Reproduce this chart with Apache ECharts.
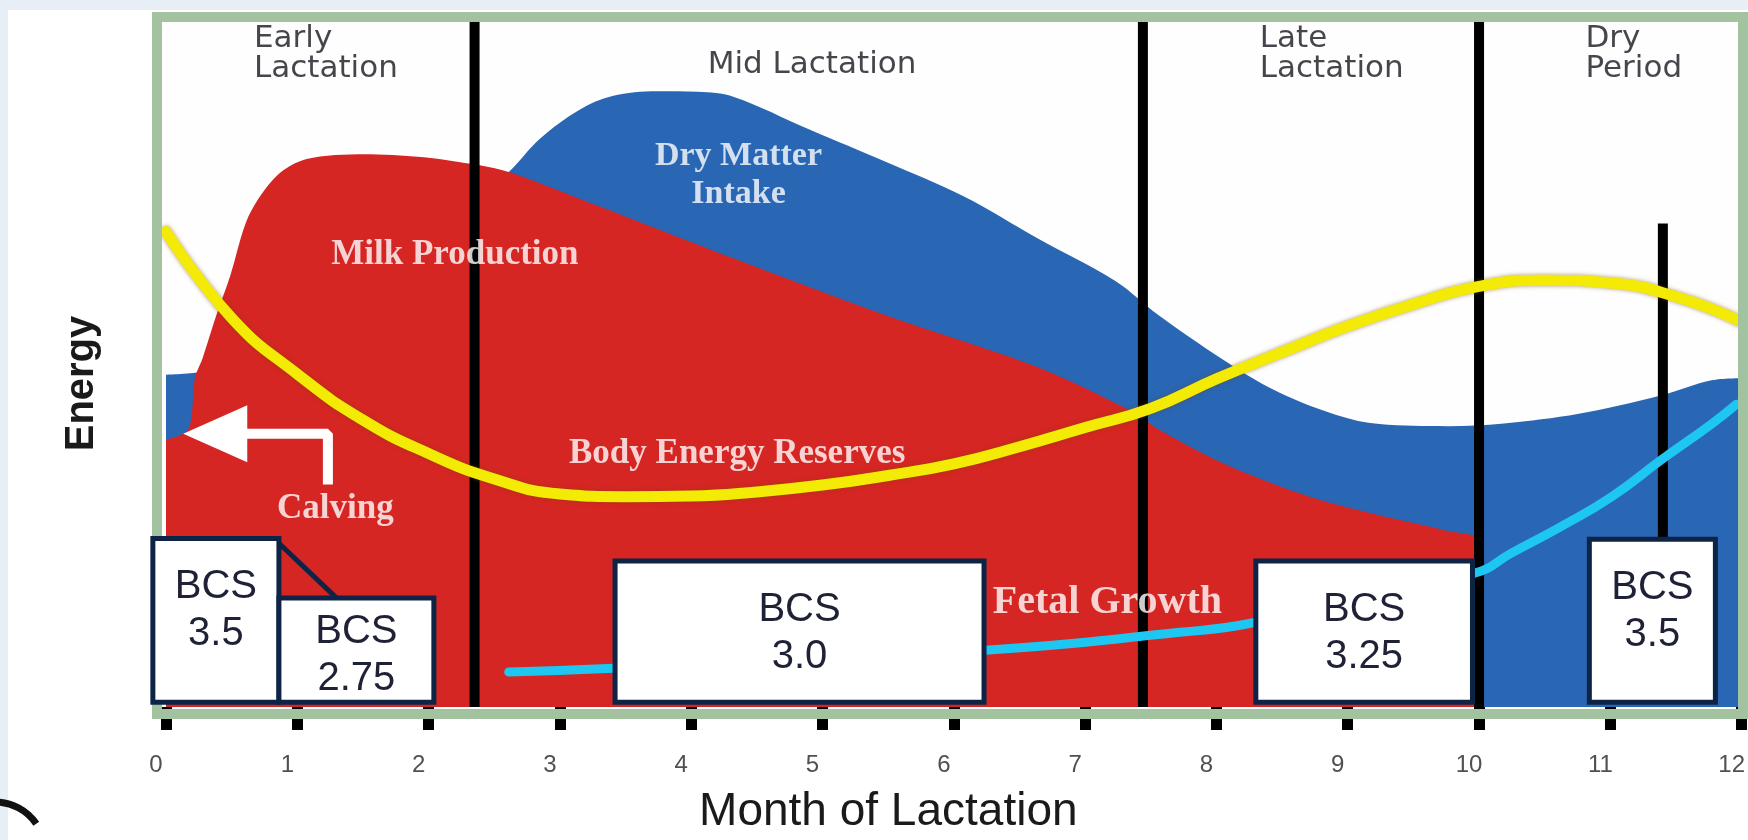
<!DOCTYPE html>
<html>
<head>
<meta charset="utf-8">
<script src="https://cdn.jsdelivr.net/npm/echarts@6/dist/echarts.min.js"></script>
<style>
html,body{margin:0;padding:0;background:#ffffff;}
#chart{width:1748px;height:840px;}
</style>
</head>
<body>
<div id="chart"></div>
<script>
// ---------- DATA (months on x, relative energy 0-100 on y) ----------
const dmiMonths  = [0, 0.3, 0.5, 1.0, 1.5, 2.0, 2.35, 2.61, 2.85, 3.15, 3.40, 3.74, 4.05, 4.32, 4.90, 5.48, 6.07, 6.64, 7.23, 7.56, 8.14, 8.49, 8.92, 9.24, 9.76, 10.19, 10.76, 11.39, 11.77, 12];
const dmiEnergy  = [48.5, 49, 50.5, 56, 62.5, 69, 74, 78.1, 83, 87.2, 89.2, 89.9, 89.8, 89.1, 84.3, 79.6, 74.6, 68.4, 62.2, 57.2, 49.6, 45.8, 42.6, 41.3, 41.0, 41.4, 42.8, 45.5, 47.7, 48];

const milkMonths = [0, 0.17, 0.22, 0.28, 0.38, 0.49, 0.63, 0.84, 1.07, 1.51, 1.94, 2.32, 2.61, 3.15, 4.32, 5.48, 6.64, 7.37, 7.56, 8.07, 8.71, 9.24, 9.76, 9.98, 10.0];
const milkEnergy = [39, 40.5, 48, 51, 57, 63, 71.7, 77.5, 80, 80.7, 80.3, 79.3, 78.1, 74.2, 65.5, 57.2, 49.6, 43, 40.5, 35.4, 30.7, 28, 25.7, 24.3, 0];

const bodyMonths = [0, 0.5, 1.0, 1.5, 2.0, 2.5, 3.0, 3.5, 4.0, 4.5, 5.0, 5.5, 6.0, 6.5, 7.0, 7.5, 8.0, 8.5, 9.0, 9.5, 10.0, 10.5, 11.0, 11.5, 11.98];
const bodyEnergy = [69.4, 56.8, 48.6, 41.9, 37.0, 33.3, 31.1, 30.7, 30.8, 31.4, 32.4, 33.8, 35.5, 38.0, 40.8, 43.6, 47.9, 51.8, 55.6, 58.8, 61.4, 62.3, 61.9, 59.9, 56.4];

const fetalMonths = [2.61, 3.41, 6.24, 7.72, 8.28, 9.96, 10.25, 10.62, 11.01, 11.39, 11.77, 11.96];
const fetalEnergy = [5.1, 5.65, 8.3, 10.9, 12.3, 19.5, 22.5, 26.3, 30.7, 36.1, 41.3, 44.2];

const monthTicks = [0, 1, 2, 3, 4, 5, 6, 7, 8, 9, 10, 11, 12];

const phaseNames       = ['Early\nLactation', 'Mid Lactation', 'Late\nLactation', 'Dry\nPeriod'];
const phaseLabelMonth  = [0.67, 4.92, 8.33, 10.81];
const phaseLabelEnergy = [95.4, 93.8, 95.4, 95.4];
const phaseBoundaries  = [2.35, 7.44, 10.0];
const dryMarkerMonth   = 11.40;
const dryMarkerRange   = [24.5, 70.6];

const bcsScores = ['3.5', '2.75', '3.0', '3.25', '3.5'];
const bcsStart  = [-0.1, 0.86, 3.42, 8.30, 10.84];
const bcsEnd    = [0.86, 2.04, 6.23, 9.95, 11.80];
const bcsTop    = [24.6, 15.9, 21.3, 21.3, 24.5];
const bcsBase   = [0.7, 0.7, 0.7, 0.7, 0.7];
const bcsLinkMonth  = [0.86, 1.30];
const bcsLinkEnergy = [23.9, 15.9];

const curveLabels      = ['Milk Production', 'Dry Matter\nIntake', 'Body Energy Reserves', 'Calving', 'Fetal Growth'];
const curveLabelMonth  = [2.20, 4.36, 4.35, 1.29, 7.17];
const curveLabelEnergy = [66.0, 77.6, 37.0, 28.9, 15.3];

const calvingArrowMonth  = [1.233, 1.233, 0.55];
const calvingArrowEnergy = [32.5, 39.9, 39.9];
const calvingArrowTip    = [0.375, 39.9];

// ---------- STYLE ----------
const RED = '#d52623', BLUE = '#2966b4', YELLOW = '#f3ea06', CYAN = '#1ec6f2', NAVY = '#0e2446';
const curveLabelSizes = [35, 34, 35, 35, 40];

const zip = (xs, ys) => xs.map((x, i) => [x, ys[i]]);

const chart = echarts.init(document.getElementById('chart'));

const option = {
  animation: false,
  backgroundColor: '#ffffff',
  grid: { left: 166, right: 5, top: 22, bottom: 128, show: true, backgroundColor: '#fdfefd', borderWidth: 0 },
  xAxis: {
    type: 'value', min: 0, max: 12, interval: 1,
    name: 'Month of Lactation', nameLocation: 'middle', nameGap: 82,
    nameTextStyle: { fontFamily: 'Liberation Sans', fontSize: 46, color: '#1a1a1a', padding: [0, 131, 0, 0] },
    axisLine: { show: false },
    splitLine: { show: false },
    axisTick: { show: true, length: 23, lineStyle: { color: '#000', width: 11 } },
    axisLabel: {
      formatter: v => String(monthTicks[Math.round(v)]),
      fontFamily: 'Liberation Sans', fontSize: 24, color: '#505050', margin: 46,
      padding: [0, 20, 0, 0]
    }
  },
  yAxis: {
    type: 'value', min: 0, max: 100,
    name: 'Energy', nameLocation: 'middle', nameGap: 64, nameRotate: 90,
    nameTextStyle: { fontFamily: 'Liberation Sans', fontWeight: 'bold', fontSize: 40, color: '#1a1a1a', padding: [0, 38, 0, 0] },
    axisLine: { show: false }, axisTick: { show: false }, axisLabel: { show: false }, splitLine: { show: false }
  },
  graphic: [
    { type: 'rect', z: 0, shape: { x: 0, y: 0, width: 1748, height: 10 }, style: { fill: '#e8eef5' } },
    { type: 'rect', z: 0, shape: { x: 0, y: 0, width: 8, height: 840 }, style: { fill: '#e8eef5' } },
    { type: 'arc', z: 0, shape: { cx: -5, cy: 852, r: 50, startAngle: -Math.PI / 2, endAngle: -0.6 }, style: { stroke: '#111', lineWidth: 7, fill: 'none' } },
    { type: 'rect', z: 7, shape: { x: 157, y: 17, width: 1586, height: 697 }, style: { fill: 'none', stroke: '#a2c2a0', lineWidth: 10 } }
  ],
  series: [
    {
      name: 'Dry Matter Intake', type: 'line', z: 1, silent: true,
      data: zip(dmiMonths, dmiEnergy), smooth: 0.35, showSymbol: false,
      lineStyle: { opacity: 0 }, areaStyle: { color: BLUE, opacity: 1 }
    },
    {
      name: 'Milk Production', type: 'line', z: 2, silent: true,
      data: zip(milkMonths, milkEnergy), smooth: 0.3, showSymbol: false,
      lineStyle: { opacity: 0 }, areaStyle: { color: RED, opacity: 1 }
    },
    {
      name: 'Stage dividers', type: 'custom', z: 3, silent: true,
      data: phaseBoundaries.map(m => [m, 0, 100]).concat([[dryMarkerMonth, dryMarkerRange[0], dryMarkerRange[1]]]),
      renderItem: (params, api) => {
        const a = api.coord([api.value(0), api.value(1)]);
        const b = api.coord([api.value(0), api.value(2)]);
        return { type: 'line', shape: { x1: a[0], y1: a[1], x2: b[0], y2: b[1] }, style: { stroke: '#000', lineWidth: 10 } };
      }
    },
    {
      name: 'Fetal Growth', type: 'line', z: 4, silent: true,
      data: zip(fetalMonths, fetalEnergy), smooth: 0.5, showSymbol: false,
      lineStyle: { color: CYAN, width: 9, cap: 'round' }
    },
    {
      name: 'Body Energy Reserves', type: 'line', z: 5, silent: true,
      data: zip(bodyMonths, bodyEnergy), smooth: 0.5, showSymbol: false,
      lineStyle: { color: YELLOW, width: 11, cap: 'round', shadowColor: 'rgba(120,70,0,0.55)', shadowBlur: 4 }
    },
    {
      name: 'Calving arrow', type: 'line', z: 6, silent: true,
      data: zip(calvingArrowMonth, calvingArrowEnergy), showSymbol: false,
      lineStyle: { color: '#ffffff', width: 10 }
    },
    {
      name: 'Calving arrow head', type: 'scatter', z: 6, silent: true,
      data: [calvingArrowTip], symbol: 'triangle', symbolSize: [57, 64], symbolRotate: 90,
      itemStyle: { color: '#ffffff', opacity: 1 }
    },
    {
      name: 'BCS', type: 'custom', z: 8, silent: true,
      data: bcsScores.map((s, i) => [bcsStart[i], bcsEnd[i], bcsBase[i], bcsTop[i]]),
      renderItem: (params, api) => {
        const p0 = api.coord([api.value(0), api.value(3)]);
        const p1 = api.coord([api.value(1), api.value(2)]);
        const w = p1[0] - p0[0], h = p1[1] - p0[1];
        const d = Math.min(19, (h - 96) / 2) + 6;
        return {
          type: 'group',
          children: [
            { type: 'rect', shape: { x: p0[0], y: p0[1], width: w, height: h }, style: { fill: '#ffffff', stroke: NAVY, lineWidth: 5 } },
            { type: 'text', style: {
                text: 'BCS\n' + bcsScores[params.dataIndex], x: p0[0] + w / 2, y: p0[1] + d,
                align: 'center', verticalAlign: 'top', fontFamily: 'Liberation Sans', fontSize: 40,
                lineHeight: 47, fill: '#1f2236' } }
          ]
        };
      }
    },
    {
      name: 'BCS link', type: 'line', z: 9, silent: true,
      data: zip(bcsLinkMonth, bcsLinkEnergy), showSymbol: false,
      lineStyle: { color: NAVY, width: 5 }
    },
    {
      name: 'Curve labels', type: 'scatter', z: 10, silent: true,
      symbolSize: 1, itemStyle: { color: 'rgba(0,0,0,0)' },
      data: curveLabels.map((t, i) => ({
        value: [curveLabelMonth[i], curveLabelEnergy[i]], name: t,
        label: { fontSize: curveLabelSizes[i] }
      })),
      label: {
        show: true, position: 'inside', formatter: p => p.name, align: 'center', verticalAlign: 'middle',
        color: '#ffffff', fontFamily: 'Liberation Serif', fontWeight: 'bold', lineHeight: 38
      }
    },
    {
      name: 'Phase labels', type: 'scatter', z: 10, silent: true,
      symbolSize: 1, itemStyle: { color: 'rgba(0,0,0,0)' },
      data: phaseNames.map((t, i) => ({
        value: [phaseLabelMonth[i], phaseLabelEnergy[i]], name: t,
        label: { align: t.indexOf('\n') >= 0 ? 'left' : 'center' }
      })),
      label: {
        show: true, position: 'inside', formatter: p => p.name, verticalAlign: 'middle',
        color: '#16161f', fontFamily: 'DejaVu Sans', fontSize: 31, lineHeight: 30
      }
    }
  ]
};
chart.setOption(option);
</script>
</body>
</html>
